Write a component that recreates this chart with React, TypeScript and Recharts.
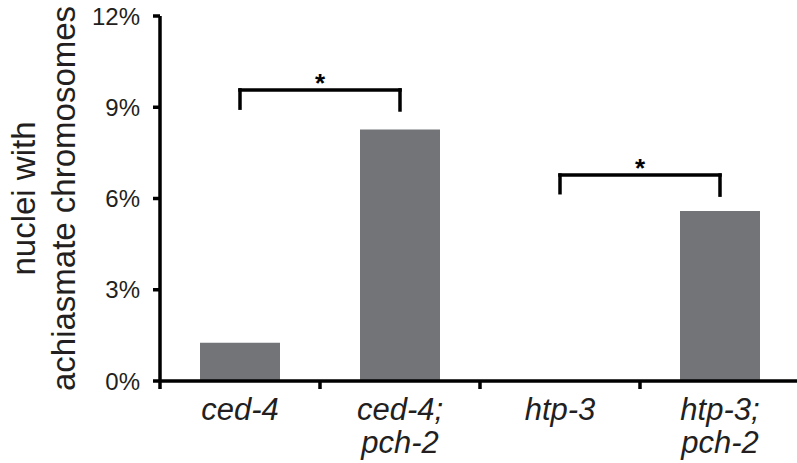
import React from 'react';
import { BarChart, Bar, XAxis, YAxis, ReferenceLine } from 'recharts';

const categories = ['ced-4', 'ced-4; pch-2', 'htp-3', 'htp-3; pch-2'];
const achiasmatePct = [1.26, 8.27, 0, 5.59];
const yTicks = [0, 3, 6, 9, 12];
const yLabelLines = ['nuclei with', 'achiasmate chromosomes'];

// significance brackets: top of bracket and bottom of each leg, in %
const bracketFrom = ['ced-4', 'htp-3'];
const bracketTo = ['ced-4; pch-2', 'htp-3; pch-2'];
const bracketTop = [9.57, 6.77];
const bracketLeftEnd = [8.97, 6.19];
const bracketRightEnd = [8.91, 6.11];
const bracketMark = ['*', '*'];

const data = categories.map((name, i) => ({ name, value: achiasmatePct[i] }));

const W = 800;
const H = 463;
const LEFT = 160;
const FONT = '"Liberation Sans", Arial, Helvetica, sans-serif';
const INK = '#231f20';
const AXIS_W = 3.5;

const halfBand = (W - LEFT) / categories.length / 2;

const XTick = (props: any) => {
  const { x, y, payload } = props;
  const parts = String(payload.value).split(' ');
  return (
    <g>
      <line x1={x - halfBand} x2={x - halfBand} y1={y} y2={y + 8} stroke="#000" strokeWidth={AXIS_W} />
      {parts.map((p, i) => (
        <text
          key={i}
          x={x}
          y={y + 39 + i * 33}
          textAnchor="middle"
          fontFamily={FONT}
          fontStyle="italic"
          fontSize={31}
          fill={INK}
        >
          {p}
        </text>
      ))}
    </g>
  );
};

const YLabel = (props: any) => {
  const vb = props.viewBox || {};
  const cy = (vb.y ?? 16) + (vb.height ?? 365) / 2;
  const xs = [35, 75];
  return (
    <g>
      {yLabelLines.map((t, i) => (
        <text
          key={i}
          x={xs[i]}
          y={cy}
          transform={`rotate(-90 ${xs[i]} ${cy})`}
          textAnchor="middle"
          fontFamily={FONT}
          fontSize={33}
          fill={INK}
        >
          {t}
        </text>
      ))}
    </g>
  );
};

const StarLabel = (mark: string) => (props: any) => {
  const vb = props.viewBox || {};
  const cx = vb.x + vb.width / 2;
  return (
    <text x={cx} y={vb.y + 2} textAnchor="middle" fontFamily={FONT} fontWeight="bold" fontSize={26} fill="#000">
      {mark}
    </text>
  );
};

export default function App() {
  return (
    <div style={{ position: 'absolute', left: 0, top: 0, width: 797, height: 463, overflow: 'hidden', background: '#fff' }}>
      <BarChart width={W} height={H} data={data} margin={{ top: 16, right: 0, bottom: 0, left: 60 }} barCategoryGap="25%">
        <XAxis
          dataKey="name"
          height={82}
          axisLine={{ stroke: '#000', strokeWidth: AXIS_W }}
          tickLine={false}
          tickSize={0}
          tickMargin={0}
          interval={0}
          tick={<XTick />}
        />
        <YAxis
          width={100}
          domain={[0, 12]}
          ticks={yTicks}
          interval={0}
          tickFormatter={(v: number) => `${v}%`}
          axisLine={{ stroke: '#000', strokeWidth: AXIS_W }}
          tickLine={{ stroke: '#000', strokeWidth: AXIS_W }}
          tickSize={7}
          tickMargin={13}
          tick={{ fill: INK, fontSize: 24, fontFamily: FONT }}
          label={YLabel}
        />
        <Bar dataKey="value" fill="#727478" isAnimationActive={false} />
        {bracketFrom.map((from, i) => (
          <React.Fragment key={i}>
            <ReferenceLine
              segment={[{ x: from, y: bracketLeftEnd[i] }, { x: from, y: bracketTop[i] }]}
              stroke="#000"
              strokeWidth={AXIS_W}
              strokeLinecap="square"
            />
            <ReferenceLine
              segment={[{ x: from, y: bracketTop[i] }, { x: bracketTo[i], y: bracketTop[i] }]}
              stroke="#000"
              strokeWidth={AXIS_W}
              strokeLinecap="square"
              label={StarLabel(bracketMark[i])}
            />
            <ReferenceLine
              segment={[{ x: bracketTo[i], y: bracketRightEnd[i] }, { x: bracketTo[i], y: bracketTop[i] }]}
              stroke="#000"
              strokeWidth={AXIS_W}
              strokeLinecap="square"
            />
          </React.Fragment>
        ))}
      </BarChart>
    </div>
  );
}
